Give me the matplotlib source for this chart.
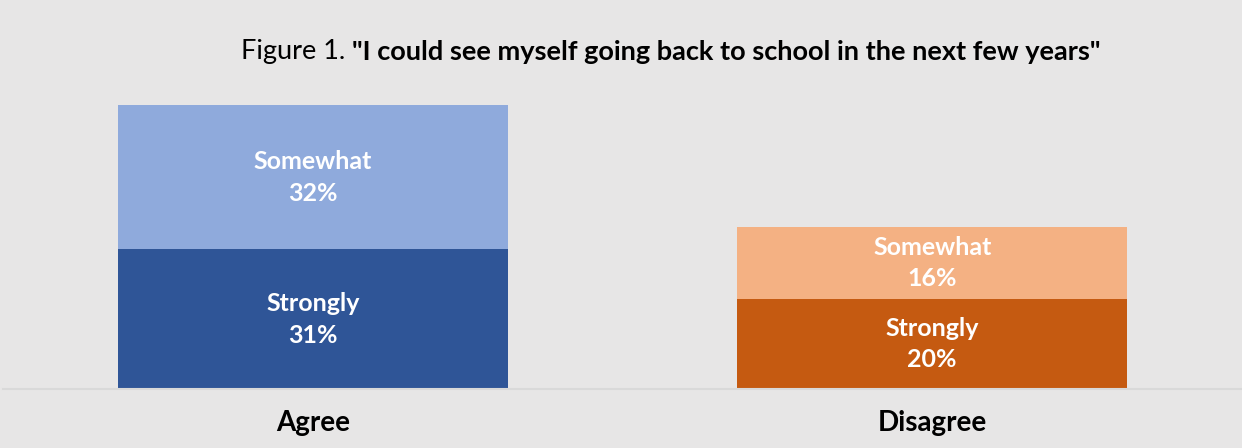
import matplotlib
matplotlib.use("Agg")
import matplotlib.pyplot as plt

plt.rcParams["font.family"] = ["Lato", "DejaVu Sans"]

categories = ["Agree", "Disagree"]
strongly = [31, 20]
somewhat = [32, 16]

strong_colors = ["#2F5597", "#C55A11"]
some_colors = ["#8FAADC", "#F4B183"]
bg = "#E7E6E6"

fig = plt.figure(figsize=(12.42, 4.48), dpi=100, facecolor=bg)
ax = fig.add_axes([3 / 1242, 59 / 448, 1239 / 1242, 315 / 448])
ax.set_facecolor(bg)

x = range(len(categories))
ax.bar(x, strongly, width=0.629, color=strong_colors)
ax.bar(x, somewhat, width=0.629, bottom=strongly, color=some_colors)

for i in x:
    ax.text(i, strongly[i] / 2, f"Strongly\n{strongly[i]}%", ha="center", va="center",
            color="white", fontsize=18, fontweight="bold", linespacing=1.45)
    ax.text(i, strongly[i] + somewhat[i] / 2, f"Somewhat\n{somewhat[i]}%", ha="center",
            va="center", color="white", fontsize=18, fontweight="bold", linespacing=1.45)

ax.set_xlim(-0.5, 1.5)
ax.set_ylim(0, 70)
ax.set_yticks([])
ax.set_xticks(list(x))
ax.set_xticklabels(categories, fontsize=20, fontweight="bold")
ax.tick_params(axis="x", length=0, pad=15)
for side in ["left", "right", "top"]:
    ax.spines[side].set_visible(False)
ax.spines["bottom"].set_color("#D9D9D9")
ax.spines["bottom"].set_linewidth(1.5)

t1 = fig.text(241 / 1242, 1 - 52 / 448, "Figure 1. ", fontsize=19.5, va="center", ha="left")
ax.annotate('"I could see myself going back to school in the next few years"',
            xy=(1, 0.5), xycoords=t1, va="center", ha="left",
            fontsize=19.5, fontweight="bold", annotation_clip=False)

fig.savefig("out.png", dpi=100, facecolor=bg)
